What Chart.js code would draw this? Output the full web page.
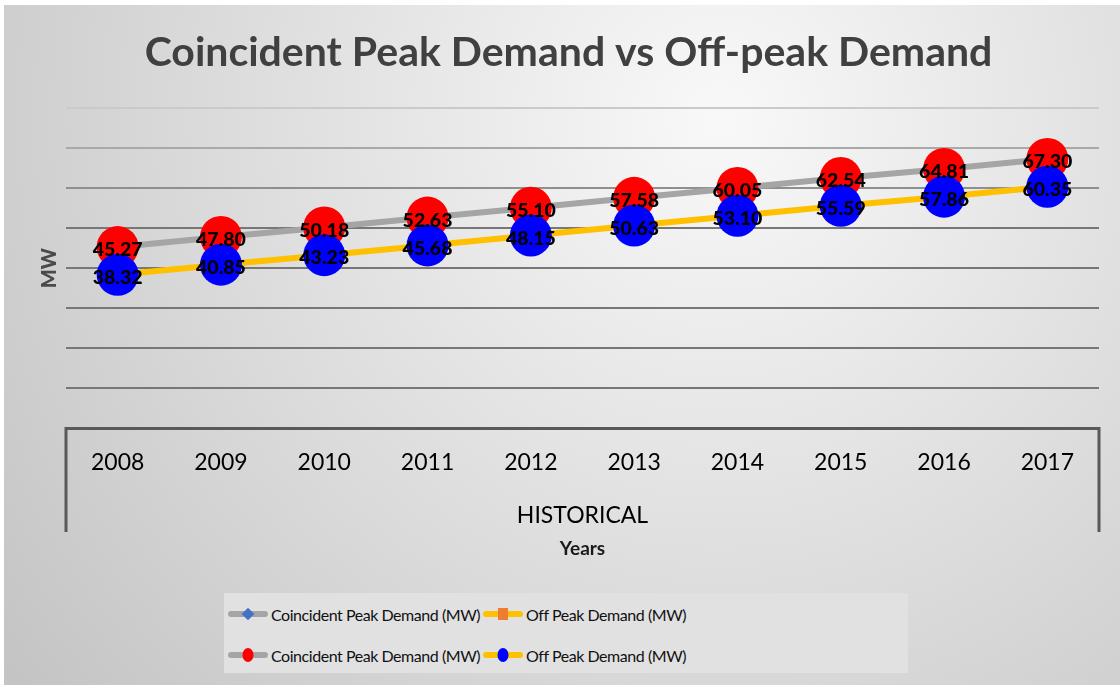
<!DOCTYPE html>
<html>
<head>
<meta charset="utf-8">
<script src="https://cdn.jsdelivr.net/npm/chart.js@4.4.0/dist/chart.umd.min.js"></script>
<style>
  body { margin: 0; background: #fff; }
  #wrap { position: relative; width: 1120px; height: 685px; }
  #legend {
    position: absolute; left: 224px; top: 593px; width: 684px; height: 80px;
    background: #e1e1e1; font-family: Lato, sans-serif; font-size: 16px; letter-spacing: -0.45px; color: #111;
  }
  .item { position: absolute; height: 24px; display: flex; align-items: center; white-space: nowrap; }
  .sym { position: relative; width: 40px; height: 24px; margin-right: 3px; }
  .sym .ln { position: absolute; left: 0; right: 0; top: 9px; height: 6px; border-radius: 3px; }
  .sym .mk { position: absolute; left: 50%; top: 50%; transform: translate(-50%, -50%); }
</style>
</head>
<body>
<div id="wrap">
  <canvas id="myChart" width="1120" height="685"></canvas>
  <div id="legend"></div>
</div>
<script>
const years = ["2008", "2009", "2010", "2011", "2012", "2013", "2014", "2015", "2016", "2017"];
const peakDemand = [45.27, 47.80, 50.18, 52.63, 55.10, 57.58, 60.05, 62.54, 64.81, 67.30];
const offPeakDemand = [38.32, 40.85, 43.23, 45.68, 48.15, 50.63, 53.10, 55.59, 57.86, 60.35];
const groupLabel = "HISTORICAL";
const peakName = "Coincident Peak Demand (MW)";
const offPeakName = "Off Peak Demand (MW)";

// background gradient
const bgPlugin = {
  id: "bg",
  beforeDraw(chart) {
    const c = chart.ctx;
    const g = c.createRadialGradient(720, 120, 10, 720, 120, 900);
    g.addColorStop(0, "#f8f8f8");
    g.addColorStop(1, "#c4c4c4");
    c.save();
    c.fillStyle = g;
    c.fillRect(4, 5, 1116, 680);
    c.restore();
  }
};

// multi level category box + group label
const axisPlugin = {
  id: "axisBox",
  afterDraw(chart) {
    const c = chart.ctx;
    const a = chart.chartArea;
    c.save();
    c.strokeStyle = "#595959";
    c.lineWidth = 3;
    c.beginPath();
    c.moveTo(a.left, a.bottom - 1);
    c.lineTo(a.left, a.bottom + 104);
    c.moveTo(a.right, a.bottom - 1);
    c.lineTo(a.right, a.bottom + 104);
    c.stroke();
    c.fillStyle = "#000";
    c.font = "23px Lato";
    c.textAlign = "center";
    c.textBaseline = "middle";
    c.fillText(groupLabel, (a.left + a.right) / 2, 516);
    c.restore();
  }
};

// value labels on the big markers
const labelPlugin = {
  id: "valueLabels",
  afterDatasetsDraw(chart) {
    const c = chart.ctx;
    c.save();
    c.fillStyle = "#000";
    c.font = "900 19.5px Lato";
    c.textAlign = "center";
    c.textBaseline = "middle";
    [2, 3].forEach(i => {
      const meta = chart.getDatasetMeta(i);
      meta.data.forEach((pt, j) => {
        c.fillText(chart.data.datasets[i].data[j].toFixed(2), pt.x, pt.y + 3);
      });
    });
    c.restore();
  }
};

const ctx = document.getElementById("myChart");

new Chart(ctx, {
  type: "line",
  data: {
    labels: years,
    datasets: [
      {
        label: peakName, data: peakDemand, borderColor: "#a5a5a5", borderWidth: 6,
        pointStyle: "rectRot", pointRadius: 6, pointBackgroundColor: "#4472c4", pointBorderWidth: 0, order: 4
      },
      {
        label: offPeakName, data: offPeakDemand, borderColor: "#ffc000", borderWidth: 6,
        pointStyle: "rect", pointRadius: 6, pointBackgroundColor: "#ed7d31", pointBorderWidth: 0, order: 3
      },
      {
        label: peakName, data: peakDemand, showLine: false,
        pointRadius: 21, pointBackgroundColor: "#ff0000", pointBorderWidth: 0, order: 2
      },
      {
        label: offPeakName, data: offPeakDemand, showLine: false,
        pointRadius: 21, pointBackgroundColor: "#0000ff", pointBorderWidth: 0, order: 1
      }
    ]
  },
  options: {
    responsive: false,
    animation: false,
    layout: { padding: { left: 17, right: 0, top: 5, bottom: 117 } },
    plugins: {
      legend: { display: false },
      tooltip: { enabled: false },
      title: {
        display: true,
        text: "Coincident Peak Demand vs Off-peak Demand",
        color: "#404040",
        font: { family: "Lato", size: 41, weight: "bold" },
        padding: { top: 23, bottom: 31 }
      }
    },
    scales: {
      x: {
        offset: true,
        afterFit: s => { s.height = 140; },
        grid: { display: false, drawTicks: false },
        border: { display: true, color: "#595959", width: 3 },
        ticks: { color: "#000", padding: 21, font: { family: "Lato", size: 23 } },
        title: {
          display: true, text: "Years", color: "#1a1a1a",
          font: { family: "Lato", size: 19, weight: "bold" },
          padding: { top: 0, bottom: 8 }
        }
      },
      y: {
        min: 0, max: 80,
        afterFit: s => { s.width = 49; },
        grid: {
          drawTicks: false, lineWidth: 2,
          color: c => c.tick.value === 80 ? "#cacaca" : c.tick.value === 70 ? "#a9a9a9" : c.tick.value === 60 ? "#8f8f8f" : "#777777"
        },
        border: { display: false },
        ticks: { display: false, stepSize: 10 },
        title: {
          display: true, text: "MW", color: "#4a4a4a",
          font: { family: "Lato", size: 20, weight: "900" },
          padding: { top: 21, bottom: 0 }
        }
      },
      yRight: {
        position: "right",
        min: 0, max: 80,
        afterFit: s => { s.width = 17; },
        grid: { display: false, drawTicks: false },
        border: { display: false },
        ticks: { display: false }
      }
    }
  },
  plugins: [bgPlugin, axisPlugin, labelPlugin]
});

// legend like the reference (line with marker in the middle)
const legendItems = [
  { text: peakName, line: "#a5a5a5", mk: "width:9px;height:9px;background:#4472c4;transform:translate(-50%,-50%) rotate(45deg);", left: 4, top: 9 },
  { text: offPeakName, line: "#ffc000", mk: "width:10px;height:12px;background:#ed7d31;", left: 259, top: 9 },
  { text: peakName, line: "#a5a5a5", mk: "width:11px;height:14px;border-radius:50%;background:#ff0000;", left: 4, top: 50 },
  { text: offPeakName, line: "#ffc000", mk: "width:11px;height:14px;border-radius:50%;background:#0000ff;", left: 259, top: 50 }
];
const legendEl = document.getElementById("legend");
legendItems.forEach(it => {
  const d = document.createElement("div");
  d.className = "item";
  d.style.left = it.left + "px";
  d.style.top = it.top + "px";
  d.innerHTML = '<div class="sym"><div class="ln" style="background:' + it.line + '"></div><div class="mk" style="' + it.mk + '"></div></div><span>' + it.text + '</span>';
  legendEl.appendChild(d);
});
</script>
</body>
</html>
